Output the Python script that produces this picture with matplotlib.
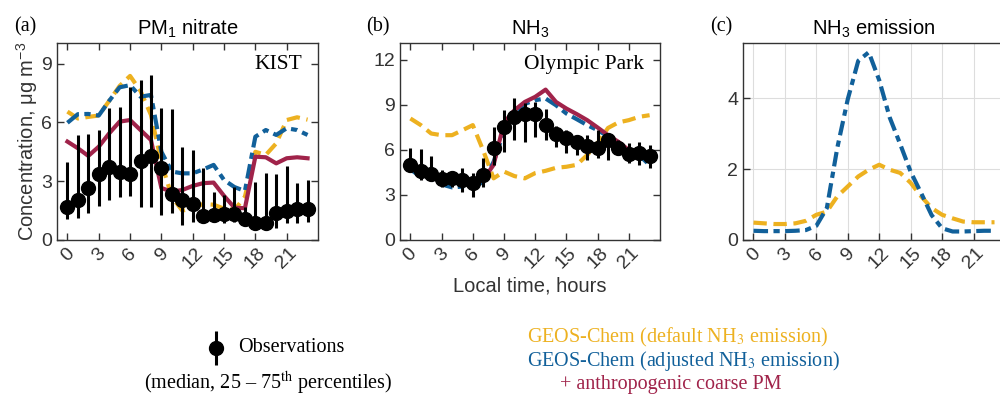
import numpy as np
import matplotlib.pyplot as plt

hours = np.arange(24)
xticks = [0, 3, 6, 9, 12, 15, 18, 21]

# (a) PM1 nitrate at KIST, ug m-3
pm_obs = [1.70, 2.04, 2.64, 3.37, 3.74, 3.49, 3.37, 4.05, 4.30, 3.66, 2.33, 2.04,
          1.86, 1.23, 1.28, 1.35, 1.31, 1.09, 0.89, 0.89, 1.39, 1.50, 1.59, 1.59]
pm_lo = [1.07, 1.14, 1.39, 1.73, 2.04, 2.21, 2.26, 1.70, 1.70, 1.28, 1.36, 0.77,
         0.94, 0.94, 0.90, 0.87, 0.94, 0.87, 0.68, 0.77, 0.60, 0.87, 0.87, 0.94]
pm_hi = [3.96, 5.36, 5.41, 5.61, 6.75, 6.80, 7.82, 8.16, 8.42, 6.72, 6.67, 4.76,
         4.59, 3.66, 2.47, 2.30, 2.72, 1.70, 2.98, 3.40, 3.35, 3.78, 2.92, 3.06]
pm_default = [6.55, 6.20, 6.28, 6.35, 7.10, 7.86, 8.37, 7.60, 6.38, 3.95, 2.20, 1.50,
              1.62, 1.84, 1.80, 1.60, 1.53, 2.21, 4.50, 4.34, 4.93, 6.12, 6.26, 6.14]
pm_adjusted = [5.98, 6.42, 6.43, 6.35, 7.10, 7.79, 7.90, 7.31, 7.40, 4.50, 3.49, 3.40,
               3.40, 3.60, 3.83, 3.06, 2.70, 2.50, 5.27, 5.61, 5.36, 5.70, 5.61, 5.36]
pm_coarse = [5.02, 4.68, 4.29, 4.76, 5.44, 6.04, 6.12, 5.61, 5.10, 2.65, 2.47, 2.55,
             2.76, 2.90, 2.93, 2.25, 1.65, 1.62, 4.25, 4.22, 3.91, 4.17, 4.22, 4.17]

# (b) NH3 at Olympic Park
nh3_obs = [5.02, 4.60, 4.38, 4.05, 4.10, 3.98, 3.81, 4.32, 6.09, 7.52, 8.19, 8.35,
           8.41, 7.64, 7.08, 6.79, 6.49, 6.26, 6.13, 6.64, 6.15, 5.69, 5.80, 5.60]
nh3_lo = [4.54, 3.98, 3.98, 3.54, 3.54, 3.21, 2.88, 3.54, 4.98, 5.86, 6.64, 6.53,
          6.86, 6.64, 6.20, 5.76, 5.64, 5.31, 5.42, 5.31, 5.76, 5.14, 4.98, 4.76]
nh3_hi = [6.15, 6.02, 5.58, 4.65, 4.54, 4.76, 4.43, 5.42, 7.52, 8.63, 9.41, 9.08,
          9.18, 8.74, 7.57, 7.30, 6.97, 6.97, 7.30, 7.13, 6.64, 6.42, 6.53, 6.31]
nh3_default = [8.08, 7.64, 7.08, 6.97, 6.97, 7.30, 7.64, 5.95, 4.10, 4.55, 4.25, 4.10,
               4.45, 4.60, 4.80, 4.87, 5.00, 5.65, 6.45, 7.45, 7.82, 7.97, 8.19, 8.30]
nh3_adjusted = [4.70, 4.20, 4.05, 3.70, 3.50, 3.55, 3.70, 3.80, 5.20, 7.20, 8.40, 9.05,
                9.30, 9.41, 8.96, 8.41, 8.03, 7.64, 7.30, 6.90, 6.42, 5.76, 5.64, 4.98]
nh3_coarse = [4.95, 4.55, 4.25, 3.95, 3.85, 3.85, 3.80, 4.00, 5.00, 7.80, 8.63, 9.18,
              9.52, 10.00, 9.18, 8.74, 8.37, 7.97, 7.48, 6.97, 6.53, 5.98, 5.95, 5.64]

# (c) NH3 emission
emis_default = [0.49, 0.47, 0.45, 0.45, 0.47, 0.54, 0.71, 0.80, 1.23, 1.51, 1.79, 1.98,
                2.12, 1.98, 1.89, 1.61, 1.23, 0.90, 0.71, 0.61, 0.52, 0.50, 0.50, 0.50]
emis_adjusted = [0.26, 0.25, 0.25, 0.25, 0.26, 0.28, 0.40, 0.90, 2.60, 3.97, 5.05, 5.29,
                 4.50, 3.45, 2.70, 1.92, 1.32, 0.70, 0.33, 0.24, 0.24, 0.25, 0.26, 0.26]

yellow = '#EDB120'
blue = '#11609A'
red = '#A0234A'
grey = '#333333'
serif = ['Liberation Serif', 'DejaVu Serif']
sans = ['Liberation Sans', 'DejaVu Sans']

plt.rcParams['font.family'] = sans
plt.rcParams['mathtext.fontset'] = 'custom'
plt.rcParams['mathtext.rm'] = 'Liberation Sans'

fig = plt.figure(figsize=(10, 4), dpi=100)
ax_a = fig.add_axes([0.057, 0.40, 0.261, 0.4925])
ax_b = fig.add_axes([0.400, 0.40, 0.260, 0.4925])
ax_c = fig.add_axes([0.743, 0.40, 0.262, 0.4925])

dash_y = (0, (3.2, 1.6))
dash_b = (0, (3.5, 1.3, 1.5, 1.3))
lw = 3.0


def style(ax, ylim, yticks):
    ax.set_xlim(-1, 24)
    ax.set_ylim(*ylim)
    ax.set_xticks(xticks)
    ax.set_yticks(yticks)
    ax.set_xticklabels([str(t) for t in xticks], rotation=45, ha='center')
    ax.tick_params(direction='in', top=True, right=True, length=5, width=1,
                   labelsize=14, labelcolor=grey, color=grey)
    for s in ax.spines.values():
        s.set_color(grey)
        s.set_linewidth(1)


def observations(ax, med, lo, hi):
    med = np.array(med)
    err = [med - np.array(lo), np.array(hi) - med]
    ax.errorbar(hours, med, yerr=err, fmt='o', color='black', ms=10,
                elinewidth=2.2, capsize=0, zorder=5)


# (a)
ax_a.plot(hours, pm_default, color=yellow, lw=lw, linestyle=dash_y)
ax_a.plot(hours, pm_adjusted, color=blue, lw=lw, linestyle=dash_b)
ax_a.plot(hours, pm_coarse, color=red, lw=lw)
observations(ax_a, pm_obs, pm_lo, pm_hi)
style(ax_a, (0, 10.05), [0, 3, 6, 9])
ax_a.set_ylabel('Concentration, μg m$^{-3}$', fontsize=14.5, color=grey, labelpad=1)
ax_a.set_title('PM$_1$ nitrate', fontsize=14.5, pad=6)
ax_a.text(0.94, 0.87, 'KIST', transform=ax_a.transAxes, ha='right', fontsize=15.5,
          family=serif)
ax_a.text(-0.08, 1.06, '(a)', transform=ax_a.transAxes, ha='right', fontsize=14.5,
          family=serif)

# (b)
ax_b.plot(hours, nh3_default, color=yellow, lw=lw, linestyle=dash_y)
ax_b.plot(hours, nh3_adjusted, color=blue, lw=lw, linestyle=dash_b)
ax_b.plot(hours, nh3_coarse, color=red, lw=lw)
observations(ax_b, nh3_obs, nh3_lo, nh3_hi)
style(ax_b, (0, 13.1), [0, 3, 6, 9, 12])
ax_b.set_xlabel('Local time, hours', fontsize=14.5, color=grey, labelpad=3)
ax_b.set_title('NH$_3$', fontsize=14.5, pad=6)
ax_b.text(0.94, 0.87, 'Olympic Park', transform=ax_b.transAxes, ha='right',
          fontsize=15.5, family=serif)
ax_b.text(-0.04, 1.06, '(b)', transform=ax_b.transAxes, ha='right', fontsize=14.5,
          family=serif)

# (c)
ax_c.plot(hours, emis_default, color=yellow, lw=lw, linestyle=dash_y)
ax_c.plot(hours, emis_adjusted, color=blue, lw=lw, linestyle=dash_b)
style(ax_c, (0, 5.55), [0, 2, 4])
ax_c.tick_params(top=False, right=False)
ax_c.grid(True, color='#dddddd', lw=0.8)
ax_c.set_axisbelow(True)
ax_c.set_title('NH$_3$ emission', fontsize=14.5, pad=6)
ax_c.text(-0.04, 1.06, '(c)', transform=ax_c.transAxes, ha='right', fontsize=14.5,
          family=serif)

# legend text below
leg = fig.add_axes([0.0, 0.0, 1.0, 0.2])
leg.set_xlim(0, 1000)
leg.set_ylim(80, 0)
leg.axis('off')
leg.errorbar([216], [28], yerr=[[17], [17]], fmt='o', color='black', ms=10,
             elinewidth=2.2, capsize=0)
leg.text(238, 28, 'Observations', fontsize=14.5, family=serif, va='center')
leg.text(268, 63, '(median, 25 – 75$^{\\mathrm{th}}$ percentiles)', fontsize=14.5,
         family=serif, va='center', ha='center', math_fontfamily='stix')
leg.text(527, 17, 'GEOS-Chem (default NH$_3$ emission)', fontsize=14.5, family=serif,
         va='center', color=yellow, math_fontfamily='stix')
leg.text(527, 41, 'GEOS-Chem (adjusted NH$_3$ emission)', fontsize=14.5, family=serif,
         va='center', color=blue, math_fontfamily='stix')
leg.text(560, 65, '+ anthropogenic coarse PM', fontsize=14.5, family=serif,
         va='center', color=red)

fig.savefig('out.png', dpi=100)
